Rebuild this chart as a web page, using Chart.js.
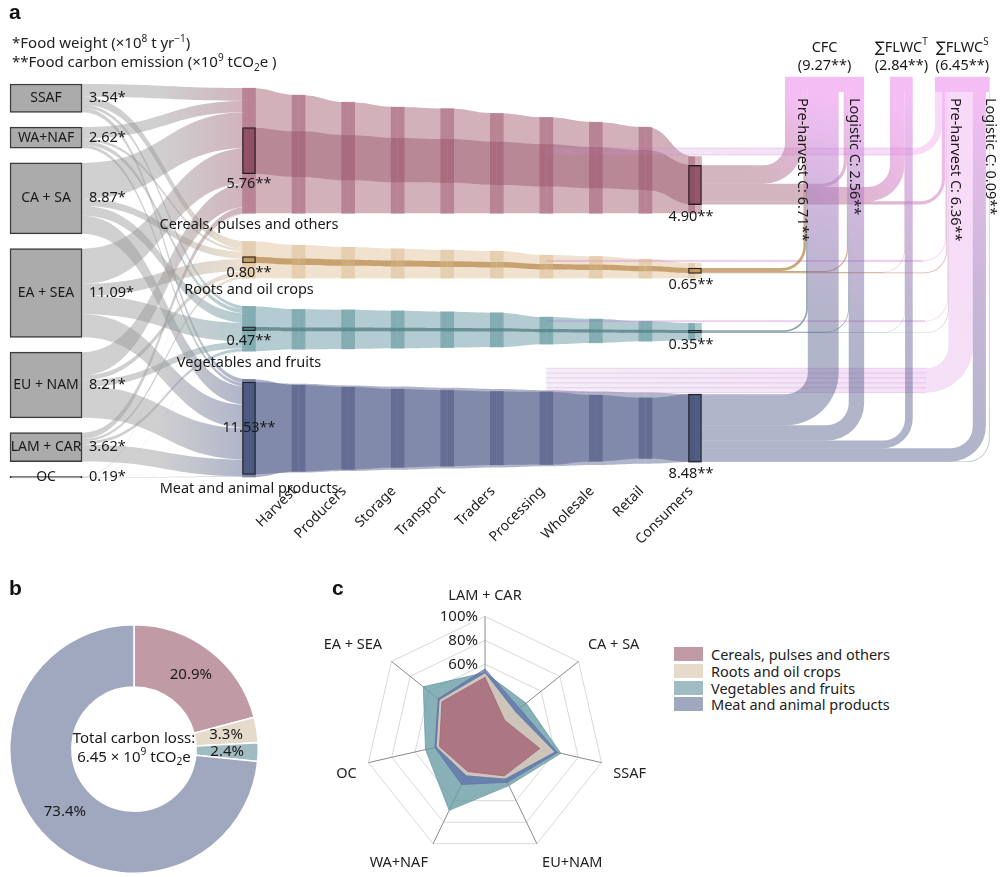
<!DOCTYPE html>
<html>
<head>
<meta charset="utf-8">
<script src="https://cdn.jsdelivr.net/npm/chart.js@4.4.0/dist/chart.umd.min.js"></script>
<style>
  body { margin: 0; background: #fff; font-family: "Noto Sans", "DejaVu Sans", sans-serif; color: #222; }
  #page { position: relative; width: 1007px; height: 877px; overflow: hidden; }
  canvas { position: absolute; }
  .tag { position: absolute; font: bold 21px "Liberation Sans", sans-serif; color: #111; }
  .note { position: absolute; left: 12px; font-size: 15px; white-space: nowrap; }
  .note sup, .note sub { font-size: 10px; }
  #legend { position: absolute; left: 674px; top: 646px; font-size: 14.5px; }
  #legend .row { display: flex; align-items: center; height: 16.7px; }
  #legend .sw { width: 29px; height: 14px; margin-right: 8px; }
</style>
</head>
<body>
<div id="page">
  <canvas id="sankey" width="1007" height="560" style="left:0;top:0"></canvas>
  <canvas id="donut" width="250" height="250" style="left:9px;top:624px"></canvas>
  <canvas id="radar" width="340" height="298" style="left:316px;top:580px"></canvas>
  <div class="tag" style="left:9px;top:0px">a</div>
  <div class="tag" style="left:9px;top:576px">b</div>
  <div class="tag" style="left:332px;top:576px">c</div>
  <div class="note" style="top:31px">*Food weight (×10<sup>8</sup> t yr<sup>−1</sup>)</div>
  <div class="note" style="top:50px">**Food carbon emission (×10<sup>9</sup> tCO<sub>2</sub>e )</div>
  <div id="legend"></div>
</div>
<script>
Chart.defaults.font.family = '"Noto Sans", "DejaVu Sans", sans-serif';
Chart.defaults.font.size = 14;
Chart.defaults.color = '#222';

// ---------- panel a: food weight (x10^8 t) and carbon (x10^9 tCO2e) ----------
const regions = ["SSAF", "WA+NAF", "CA + SA", "EA + SEA", "EU + NAM", "LAM + CAR", "OC"];
const regionWeight = [3.54, 2.62, 8.87, 11.09, 8.21, 3.62, 0.19];
const categories = ["Cereals, pulses and others", "Roots and oil crops", "Vegetables and fruits", "Meat and animal products"];

// weight each region sends into each food group (same order as regions)
const regionToCereals = [1.6, 1.4, 4.5, 4.4, 2.9, 0.8, 0.07];
const regionToRoots = [1.0, 0.3, 0.9, 1.5, 0.6, 0.3, 0.02];
const regionToVeg = [0.4, 0.5, 1.2, 2.3, 0.8, 0.4, 0.02];
const regionToMeat = [0.54, 0.42, 2.27, 2.89, 3.91, 2.12, 0.08];

// tick labels sit on node columns 1..9, column 0 is the harvest input node
const stageNames = ["Harvest", "Producers", "Storage", "Transport", "Traders", "Processing", "Wholesale", "Retail", "Consumers"];

// food weight along the 10 node columns
const cerealsWeight = [15.67, 14.8, 13.9, 13.3, 13.1, 12.5, 12.0, 11.4, 10.8, 7.1];
const rootsWeight = [4.62, 4.15, 3.9, 3.7, 3.55, 3.4, 2.9, 2.75, 2.4, 1.9];
const vegWeight = [5.62, 5.0, 4.9, 4.7, 4.5, 4.3, 3.4, 3.0, 2.5, 2.1];
const meatWeight = [12.23, 10.8, 10.3, 9.8, 9.5, 9.2, 9.1, 8.3, 7.6, 8.5];

// carbon carried along the same columns
const cerealsCarbon = [5.76, 5.70, 5.62, 5.55, 5.46, 5.38, 5.27, 5.15, 5.02, 4.90];
const rootsCarbon = [0.80, 0.79, 0.77, 0.75, 0.73, 0.71, 0.70, 0.68, 0.66, 0.65];
const vegCarbon = [0.47, 0.46, 0.45, 0.43, 0.42, 0.40, 0.39, 0.38, 0.36, 0.35];
const meatCarbon = [11.53, 11.1, 10.7, 10.4, 10.1, 9.8, 9.5, 9.2, 8.9, 8.48];

// consumer carbon of each food group split over the sinks on the right
const toCfcPre = [2.3, 0.35, 0.2, 3.86];
const toCfcLog = [0.4, 0.15, 0.08, 1.93];
const toFlwcT = [1.8, 0.05, 0.03, 0.96];
const toFlwcSPre = [0.4, 0.10, 0.04, 1.64];
const toFlwcSLog = [0, 0, 0, 0.09];

// ---------- panel b ----------
const lossShare = [20.9, 3.3, 2.4, 73.4];
const totalLoss = 6.45;

// ---------- panel c ----------
const radarAxes = ["LAM + CAR", "CA + SA", "SSAF", "EU+NAM", "WA+NAF", "OC", "EA + SEA"];
const radarCereals = [49, 21, 47, 37, 33, 39, 46];
const radarRoots = [52, 32, 59, 39, 36, 41, 48];
const radarVeg = [53, 44, 65, 46, 69, 51, 66];
const radarMeat = [56, 37, 62, 43, 45, 43, 50];
const radarTickLabels = [60, 80, 100];

// ---------- styles / layout ----------
const catStyle = [
  {flowW: 'rgba(180,125,142,0.6)', flowC: 'rgba(150,80,102,0.42)', node: 'rgba(150,70,95,0.42)', box: 'rgba(140,75,98,0.88)', anchor: 1},
  {flowW: 'rgba(225,198,160,0.5)', flowC: 'rgba(185,140,80,0.75)', node: 'rgba(215,180,130,0.4)', box: 'rgba(195,150,90,0.9)', anchor: 1},
  {flowW: 'rgba(115,162,172,0.55)', flowC: 'rgba(60,105,115,0.6)', node: 'rgba(75,135,145,0.45)', box: 'rgba(80,130,140,0.9)', anchor: 0.6},
  {flowW: 'rgba(105,115,158,0.55)', flowC: 'rgba(80,90,135,0.45)', node: 'rgba(65,75,120,0.45)', box: 'rgba(75,88,130,0.95)', anchor: 0.5}
];
const GREY = 'rgba(150,150,150,0.45)';
const PINK = 'rgba(238,150,238,0.62)';
const pieColors = ['#C09BA5', '#E6DACB', '#A0BCC2', '#A0A8C0'];
const radarFill = ['rgba(160,90,110,0.72)', 'rgba(222,208,188,0.85)', 'rgba(105,158,165,0.8)', 'rgba(95,110,170,0.7)'];
const radarOrder = [1, 2, 4, 3];

const AXIS_H = 83;                                       // room kept for the stage labels
const X_MIN = -5.0246, X_MAX = 15.296, Y_MAX = (560 - AXIS_H) / 8;   // one y unit = either quantity
const REGION_X = -4.096, REGION_HALF = 36, NODE_HALF = 7;
const REGION_TOP = 10.5, REGION_GAP = 1.85;
const CAT_TOP = 11, CAT_GAP = 3.5;
const COL_TOP = 9.6, CAP = 1.9, NOTCH = 5;
const CFC_X = 10.816, T_X = 12.935, S_X = 13.843, LOSS_FROM = 6;
const TICK_SHIFT = -0.08;

const sum = a => a.reduce((s, v) => s + v, 0);
const regionSplit = [regionToCereals, regionToRoots, regionToVeg, regionToMeat];
const catWeight = [cerealsWeight, rootsWeight, vegWeight, meatWeight];
const catCarbon = [cerealsCarbon, rootsCarbon, vegCarbon, meatCarbon];
const stageLoss = catCarbon.map(c => c[0] - c[c.length - 1]);

const regionSpans = [];
let acc = REGION_TOP;
regionWeight.forEach(w => { regionSpans.push([acc, acc + w]); acc += w + REGION_GAP; });

const bands = [];
let slot = CAT_TOP;
catWeight.forEach((W, c) => {
  const top0 = slot;
  bands.push(W.map((w, k) => {
    const wTop = top0 + (W[0] - w) * catStyle[c].anchor;
    const cTop = wTop + (w - catCarbon[c][k]) / 2;
    return {wTop, wBot: wTop + w, cTop, cBot: cTop + catCarbon[c][k]};
  }));
  slot += W[0] + CAT_GAP;
});

function ribbon(ctx, x0, t0, b0, x1, t1, b1, fill) {
  const m = (x0 + x1) / 2;
  ctx.beginPath();
  ctx.moveTo(x0, t0);
  ctx.bezierCurveTo(m, t0, m, t1, x1, t1);
  ctx.lineTo(x1, b1);
  ctx.bezierCurveTo(m, b1, m, b0, x0, b0);
  ctx.closePath();
  ctx.fillStyle = fill;
  ctx.fill();
}

// horizontal band that turns upward into a vertical column
function turn(ctx, x0, yt, yb, xl, yTop, r, fill) {
  const w = yb - yt, xr = xl + w;
  r = Math.max(0, Math.min(r, xl - x0, yt - yTop));
  const cx = xl - r, cy = yt - r;
  ctx.beginPath();
  ctx.moveTo(x0, yt);
  ctx.lineTo(cx, yt);
  ctx.arc(cx, cy, r, Math.PI / 2, 0, true);
  ctx.lineTo(xl, yTop);
  ctx.lineTo(xr, yTop);
  ctx.lineTo(xr, cy);
  ctx.arc(cx, cy, r + w, 0, Math.PI / 2, false);
  ctx.lineTo(x0, yb);
  ctx.closePath();
  ctx.fillStyle = fill;
  ctx.fill();
}

function rich(ctx, parts, x, y, size, align) {
  const fam = '"Noto Sans", "DejaVu Sans", sans-serif';
  const seg = parts.map(p => {
    const s = p[1] ? size * 0.68 : size;
    ctx.font = s + 'px ' + fam;
    return {t: p[0], f: ctx.font, w: ctx.measureText(p[0]).width,
            dy: p[1] === 'sup' ? -size * 0.38 : p[1] === 'sub' ? size * 0.28 : 0};
  });
  const total = sum(seg.map(s => s.w));
  let cx = align === 'center' ? x - total / 2 : align === 'right' ? x - total : x;
  ctx.textAlign = 'left';
  ctx.textBaseline = 'middle';
  seg.forEach(s => { ctx.font = s.f; ctx.fillText(s.t, cx, y + s.dy); cx += s.w; });
}

let sinkCols = [];

const flowPlugin = {
  id: 'flows',
  beforeDatasetsDraw(chart) {
    const {ctx, scales: {x, y}} = chart;
    const X = v => x.getPixelForValue(v), Y = v => y.getPixelForValue(v);
    const L = v => Y(v) - Y(0);
    ctx.save();

    // regions -> food groups
    const srcOff = regionSpans.map(s => s[0]);
    const dstOff = bands.map(b => b[0].wTop);
    const xa = X(REGION_X) + REGION_HALF, xb = X(0);
    regions.forEach((r, i) => {
      regionSplit.forEach((row, c) => {
        const v = row[i];
        const g = ctx.createLinearGradient(xa, 0, xb, 0);
        g.addColorStop(0, GREY);
        g.addColorStop(0.45, GREY);
        g.addColorStop(1, catStyle[c].flowW);
        ribbon(ctx, xa, Y(srcOff[i]), Y(srcOff[i] + v), xb, Y(dstOff[c]), Y(dstOff[c] + v), g);
        srcOff[i] += v;
        dstOff[c] += v;
      });
    });

    // along the supply chain
    bands.forEach((b, c) => {
      for (let k = 0; k < b.length - 1; k++) {
        ribbon(ctx, X(k), Y(b[k].wTop), Y(b[k].wBot), X(k + 1), Y(b[k + 1].wTop), Y(b[k + 1].wBot), catStyle[c].flowW);
        ribbon(ctx, X(k), Y(b[k].cTop), Y(b[k].cBot), X(k + 1), Y(b[k + 1].cTop), Y(b[k + 1].cBot), catStyle[c].flowC);
      }
    });

    // consumers / losses -> CFC and FLWC sinks
    const wPre = L(sum(toCfcPre)), wLog = L(sum(toCfcLog)), wT = L(sum(toFlwcT));
    const wSP = L(sum(toFlwcSPre) + sum(stageLoss)), wSL = L(sum(toFlwcSLog));
    sinkCols = [
      {shares: toCfcPre, left: X(CFC_X), w: wPre},
      {shares: toCfcLog, left: X(CFC_X) + wPre + NOTCH, w: wLog},
      {shares: toFlwcT, left: X(T_X), w: wT},
      {shares: toFlwcSPre, left: X(S_X), w: wSP},
      {shares: toFlwcSLog, left: X(S_X) + wSP + NOTCH * 0.6, w: wSL}
    ];
    const flows = [];
    bands.forEach((b, c) => {
      const end = b[b.length - 1];
      let off = end.cTop;
      sinkCols.forEach((col, t) => {
        const v = col.shares[c];
        if (v > 0) flows.push({c, t, y0: off, y1: off + v, x0: X(b.length - 1) + NODE_HALF, loss: false});
        off += v;
      });
      flows.push({c, t: 3, y0: end.wTop - stageLoss[c] - 0.2, y1: end.wTop - 0.2, x0: X(LOSS_FROM), loss: true});
    });
    sinkCols.forEach((col, t) => {
      let sx = col.left;
      flows.filter(f => f.t === t).sort((a, b) => a.y0 - b.y0).forEach(f => { f.sx = sx; sx += L(f.y1 - f.y0); });
    });
    const yCap = Y(COL_TOP + CAP);
    flows.sort((a, b) => b.loss - a.loss).forEach(f => {
      const g = ctx.createLinearGradient(f.x0, Y(f.y1), f.sx, yCap);
      if (f.loss) {
        g.addColorStop(0, 'rgba(190,150,205,0.16)');
        g.addColorStop(1, 'rgba(240,160,240,0.4)');
      } else {
        g.addColorStop(0, catStyle[f.c].flowC);
        g.addColorStop(0.35, catStyle[f.c].flowC);
        g.addColorStop(1, PINK);
      }
      turn(ctx, f.x0, Y(f.y0), Y(f.y1), f.sx, yCap, 22, g);
      if (f.loss) {
        // a few hairlines inside the loss bundle
        ctx.strokeStyle = 'rgba(200,120,210,0.35)';
        ctx.lineWidth = 0.8;
        const n = Math.max(1, Math.round(L(f.y1 - f.y0) / 5));
        for (let j = 0; j <= n; j++) {
          const yy = Y(f.y0) + (Y(f.y1) - Y(f.y0)) * j / n;
          ctx.beginPath();
          ctx.moveTo(f.x0, yy);
          ctx.lineTo(f.sx - 22, yy);
          ctx.stroke();
        }
      }
    });
    ctx.fillStyle = PINK;
    const groups = [[0, 1], [2, 2], [3, 4]];
    groups.forEach(([a, b]) => {
      const l = sinkCols[a].left, r = sinkCols[b].left + sinkCols[b].w;
      ctx.fillRect(l, Y(COL_TOP), r - l, yCap - Y(COL_TOP));
    });
    ctx.restore();
  },
  afterDraw(chart) {
    const {ctx, scales: {x, y}} = chart;
    const X = v => x.getPixelForValue(v), Y = v => y.getPixelForValue(v);
    ctx.save();
    ctx.fillStyle = '#1a1a1a';

    // region names and weights
    regions.forEach((r, i) => {
      const mid = Y((regionSpans[i][0] + regionSpans[i][1]) / 2);
      rich(ctx, [[r]], X(REGION_X), mid, 14, 'center');
      rich(ctx, [[regionWeight[i].toFixed(2) + '*']], X(REGION_X) + REGION_HALF + 7, mid, 14.5, 'left');
    });

    // carbon at harvest and consumers, food group names
    const last = bands[0].length - 1;
    bands.forEach((b, c) => {
      let labY;
      const h0 = Y(b[0].cBot) - Y(b[0].cTop);
      if (h0 > 60) { labY = (Y(b[0].cTop) + Y(b[0].cBot)) / 2; }
      else { labY = Y(b[0].cBot) + 10; }
      rich(ctx, [[catCarbon[c][0].toFixed(2) + '**']], X(0), labY, 14.5, 'center');
      rich(ctx, [[catCarbon[c][last].toFixed(2) + '**']], X(last) - 4, Y(b[last].cBot) + 12, 14.5, 'center');
      const nameY = Math.max(Y(b[0].wBot) + 12, h0 > 60 ? 0 : labY + 16);
      rich(ctx, [[categories[c]]], X(0), nameY, 14.5, 'center');
    });

    // sink headers
    const heads = [
      [[['CFC']], sum(toCfcPre) + sum(toCfcLog), 0, 1],
      [[['∑FLWC'], ['T', 'sup']], sum(toFlwcT), 2, 2],
      [[['∑FLWC'], ['S', 'sup']], sum(toFlwcSPre) + sum(stageLoss) + sum(toFlwcSLog), 3, 4]
    ];
    heads.forEach(([parts, total, a, b]) => {
      const cx = (sinkCols[a].left + sinkCols[b].left + sinkCols[b].w) / 2;
      rich(ctx, parts, cx, Y(COL_TOP) - 29, 14.5, 'center');
      rich(ctx, [['(' + total.toFixed(2) + '**)']], cx, Y(COL_TOP) - 11, 14.5, 'center');
    });

    // vertical sub labels
    const subs = [
      ['Pre-harvest C: ', sum(toCfcPre), sinkCols[0].left + 17],
      ['Logistic C: ', sum(toCfcLog), sinkCols[1].left + sinkCols[1].w / 2],
      ['Pre-harvest C: ', sum(toFlwcSPre) + sum(stageLoss), sinkCols[3].left + 20],
      ['Logistic C: ', sum(toFlwcSLog), sinkCols[4].left + sinkCols[4].w / 2 + 1]
    ];
    subs.forEach(([txt, v, sx]) => {
      ctx.save();
      ctx.translate(sx, Y(COL_TOP + CAP) + 6);
      ctx.rotate(Math.PI / 2);
      rich(ctx, [[txt + v.toFixed(2) + '**']], 0, 0, 14.5, 'left');
      ctx.restore();
    });
    ctx.restore();
  }
};

const nodeSets = bands.map((b, c) => ({
  data: b.map((s, k) => ({x: k, y: [s.wTop, s.wBot]})),
  backgroundColor: catStyle[c].node,
  barThickness: 13,
  grouped: false,
  clip: false
}));
const last = bands[0].length - 1;
const boxSet = {
  data: bands.flatMap(b => [{x: 0, y: [b[0].cTop, b[0].cBot]}, {x: last, y: [b[last].cTop, b[last].cBot]}]),
  backgroundColor: catStyle.flatMap(s => [s.box, s.box]),
  borderColor: '#222',
  borderWidth: 1.2,
  borderSkipped: false,
  barThickness: 13,
  grouped: false,
  clip: false
};
const regionSet = {
  data: regionSpans.map(s => ({x: REGION_X, y: s})),
  backgroundColor: '#ababab',
  borderColor: '#3c3c3c',
  borderWidth: 1.5,
  borderSkipped: false,
  barThickness: REGION_HALF * 2,
  grouped: false,
  clip: false
};

new Chart(document.getElementById('sankey'), {
  type: 'bar',
  data: {datasets: [boxSet, ...nodeSets, regionSet]},
  options: {
    responsive: false,
    animation: false,
    layout: {padding: 0},
    plugins: {legend: {display: false}, tooltip: {enabled: false}},
    scales: {
      x: {
        type: 'linear', min: X_MIN, max: X_MAX, offset: false,
        grid: {display: false, drawTicks: false}, border: {display: false},
        afterBuildTicks: s => { s.ticks = stageNames.map((n, i) => ({value: i + 1 + TICK_SHIFT})); },
        afterFit: s => { s.height = AXIS_H; },
        ticks: {autoSkip: false, minRotation: 45, maxRotation: 45, padding: 6, font: {size: 14}, color: '#222',
                callback: (v, i) => stageNames[i]}
      },
      y: {type: 'linear', reverse: true, min: 0, max: Y_MAX, display: false}
    }
  },
  plugins: [flowPlugin]
});

// ---------- panel b ----------
new Chart(document.getElementById('donut'), {
  type: 'doughnut',
  data: {labels: categories, datasets: [{data: lossShare, backgroundColor: pieColors, borderColor: '#fff', borderWidth: 1.5}]},
  options: {
    responsive: false, animation: false, cutout: '50%', layout: {padding: 0},
    plugins: {legend: {display: false}, tooltip: {enabled: false}}
  },
  plugins: [{
    id: 'donutText',
    afterDraw(chart) {
      const {ctx} = chart;
      const meta = chart.getDatasetMeta(0);
      ctx.save();
      ctx.fillStyle = '#1a1a1a';
      meta.data.forEach((arc, i) => {
        const p = arc.getCenterPoint();
        rich(ctx, [[lossShare[i].toFixed(1) + '%']], p.x, p.y, 15, 'center');
      });
      const cx = meta.data[0].x, cy = meta.data[0].y;
      rich(ctx, [['Total carbon loss:']], cx, cy - 10, 15, 'center');
      rich(ctx, [[totalLoss.toFixed(2) + ' × 10'], ['9', 'sup'], [' tCO'], ['2', 'sub'], ['e']], cx, cy + 9, 15, 'center');
      ctx.restore();
    }
  }]
});

// ---------- panel c ----------
const radarSeries = [radarCereals, radarRoots, radarVeg, radarMeat];
new Chart(document.getElementById('radar'), {
  type: 'radar',
  data: {
    labels: radarAxes,
    datasets: categories.map((name, c) => ({
      label: name, data: radarSeries[c], backgroundColor: radarFill[c],
      borderColor: radarFill[c], borderWidth: 1, pointRadius: 0, fill: true, order: radarOrder[c]
    }))
  },
  options: {
    responsive: false, animation: false,
    plugins: {legend: {display: false}, tooltip: {enabled: false}},
    scales: {
      r: {
        min: 0, max: 100,
        ticks: {stepSize: 20, display: false},
        grid: {color: '#d8d8d8'},
        angleLines: {color: '#8a8a8a'},
        pointLabels: {font: {size: 14.5}, color: '#222', padding: 12}
      }
    }
  },
  plugins: [{
    id: 'radarTicks',
    afterDraw(chart) {
      const r = chart.scales.r, ctx = chart.ctx;
      ctx.save();
      ctx.fillStyle = '#222';
      radarTickLabels.forEach(v => {
        rich(ctx, [[v + '%']], r.xCenter - 7, r.yCenter - r.getDistanceFromCenterForValue(v), 15, 'right');
      });
      ctx.restore();
    }
  }]
});

// legend for panel c
const legend = document.getElementById('legend');
categories.forEach((name, c) => {
  const row = document.createElement('div');
  row.className = 'row';
  row.innerHTML = '<span class="sw" style="background:' + pieColors[c] + '"></span><span>' + name + '</span>';
  legend.appendChild(row);
});
</script>
</body>
</html>
